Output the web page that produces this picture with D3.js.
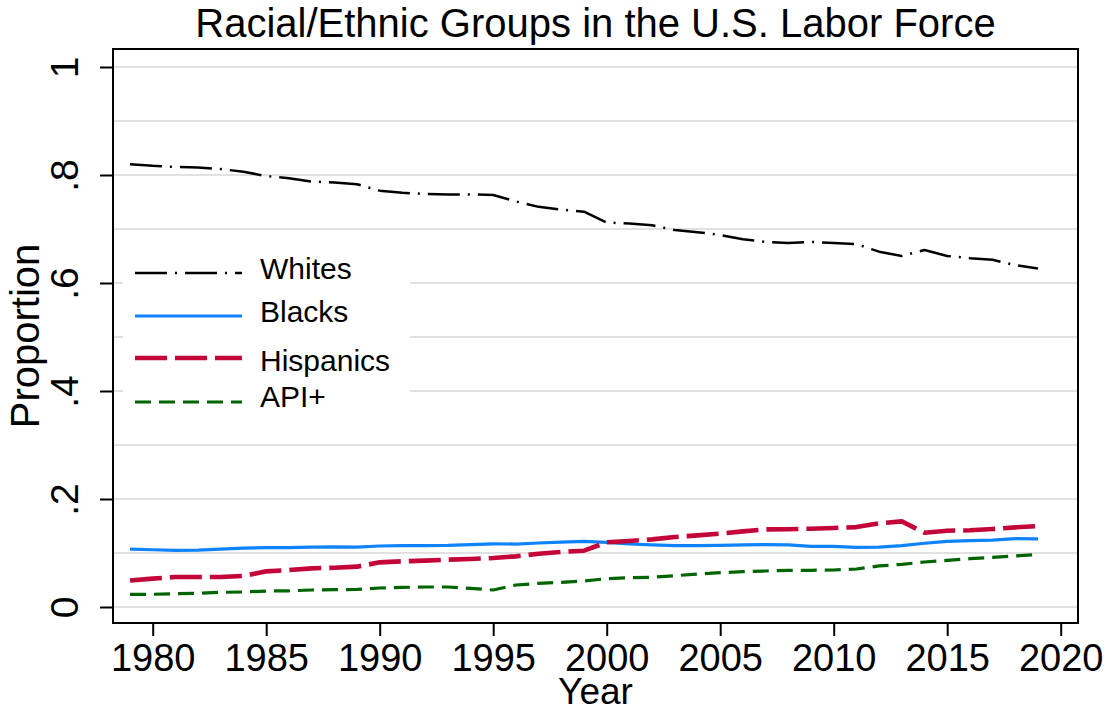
<!DOCTYPE html>
<html>
<head>
<meta charset="utf-8">
<script src="https://cdn.jsdelivr.net/npm/d3@7"></script>
<style>
  body { margin: 0; background: #fff; }
  svg text { font-family: "Liberation Sans", Arial, sans-serif; fill: #000; }
</style>
</head>
<body>
<div id="chart"></div>
<script>
// data
var years = d3.range(1979, 2020);
var whites = [.820, .817, .815, .814, .811, .806, .798, .794, .788, .786, .783, .771, .767, .765, .764, .764, .763, .751, .741, .736, .732,
              .712, .710, .707, .698, .694, .689, .681, .676, .674, .676, .674, .672, .658, .650, .661, .650, .646, .643, .633, .627];
var blacks = [.107, .106, .105, .1055, .107, .109, .110, .110, .111, .1115, .111, .113, .1136, .1136, .114, .1154, .117, .1166, .1185, .120, .1216,
              .1198, .1167, .115, .1136, .1136, .114, .115, .1154, .115, .1123, .1123, .1105, .111, .1136, .118, .1216, .123, .124, .1265, .126];
var hispanics = [.049, .0525, .0556, .0556, .0556, .0574, .066, .0685, .0716, .0728, .0747, .0827, .0846, .0858, .0877, .0889, .0907, .0938, .0987, .1019, .1043,
                 .1198, .1222, .1253, .1296, .1327, .1358, .140, .1438, .144, .145, .1463, .148, .155, .1586, .1376, .1413, .142, .1444, .1475, .150];
var api = [.0235, .0235, .0247, .0253, .0272, .0278, .0296, .030, .0315, .032, .0327, .0352, .0364, .037, .037, .0346, .0315, .0407, .0438, .0457, .048,
           .0525, .0543, .055, .058, .0611, .0636, .0654, .0667, .068, .068, .0685, .0704, .076, .079, .0833, .0864, .0895, .092, .0944, .0975];
var seriesNames = ["Whites", "Blacks", "Hispanics", "API+"];
var xTicks = d3.range(1980, 2021, 5);
var yTicks = [0, .2, .4, .6, .8, 1];
var yGrid = d3.range(0, 11).map(function (i) { return i / 10; });

//Series styles
var styles = {
    "Whites":    {color: "#000000", width: 2.5, dash: "32,8,2,8", values: whites,    ly: 273, ty: 279},
    "Blacks":    {color: "#0f83fa", width: 3.2, dash: null,       values: blacks,    ly: 316, ty: 322},
    "Hispanics": {color: "#c40539", width: 4.6, dash: "32,8",     values: hispanics, ly: 358, ty: 371},
    "API+":      {color: "#006400", width: 3.2, dash: "16,8",     values: api,       ly: 402, ty: 407}
};

var width = 1109, height = 712;
var plot = {left: 113, top: 49, right: 1078, bottom: 623};

var svg = d3.select("#chart").append("svg")
    .attr("width", width)
    .attr("height", height);

var x = d3.scaleLinear().domain([1980, 2020]).range([152.7, 1060.7]);
var y = d3.scaleLinear().domain([0, 1]).range([607, 67]);

//Gridlines
svg.append("g").selectAll("line")
    .data(yGrid)
    .enter().append("line")
    .attr("x1", plot.left).attr("x2", plot.right)
    .attr("y1", function (d) { return y(d); })
    .attr("y2", function (d) { return y(d); })
    .attr("stroke", "#e1e1e1")
    .attr("stroke-width", 2);

//Lines
var line = d3.line()
    .x(function (d, i) { return x(years[i]); })
    .y(function (d) { return y(d); });

seriesNames.forEach(function (name) {
    var s = styles[name];
    svg.append("path")
        .datum(s.values)
        .attr("d", line)
        .attr("fill", "none")
        .attr("stroke", s.color)
        .attr("stroke-width", s.width)
        .attr("stroke-dasharray", s.dash)
        .attr("stroke-linejoin", "round");
});

//Legend (white box covering the grid)
var legend = svg.append("g");
legend.append("rect")
    .attr("x", 123).attr("y", 247)
    .attr("width", 287).attr("height", 176)
    .attr("fill", "#fff");
seriesNames.forEach(function (name) {
    var s = styles[name];
    legend.append("line")
        .attr("x1", 135).attr("x2", 242)
        .attr("y1", s.ly).attr("y2", s.ly)
        .attr("stroke", s.color)
        .attr("stroke-width", s.width)
        .attr("stroke-dasharray", s.dash);
    legend.append("text")
        .attr("x", 260).attr("y", s.ty)
        .style("font-size", "30px")
        .text(name);
});

//Frame
svg.append("rect")
    .attr("x", plot.left).attr("y", plot.top)
    .attr("width", plot.right - plot.left)
    .attr("height", plot.bottom - plot.top)
    .attr("fill", "none")
    .attr("stroke", "#000")
    .attr("stroke-width", 2);

//Axes
var fmt = function (d) {
    return (d === 0 || d === 1) ? String(d) : d3.format(".1f")(d).replace(/^0/, "");
};

var yAxis = svg.append("g")
    .attr("transform", "translate(" + plot.left + ",0)")
    .call(d3.axisLeft(y).tickValues(yTicks).tickFormat(fmt).tickSize(13));
yAxis.select(".domain").remove();
yAxis.selectAll(".tick line").attr("stroke-width", 2);
yAxis.selectAll(".tick text")
    .attr("x", null).attr("dy", null)
    .attr("transform", "translate(-35,0) rotate(-90)")
    .attr("text-anchor", "middle")
    .style("font-size", "39px")
    .style("font-family", "Liberation Sans, Arial, sans-serif");

var xAxis = svg.append("g")
    .attr("transform", "translate(0," + plot.bottom + ")")
    .call(d3.axisBottom(x).tickValues(xTicks).tickFormat(d3.format("d")).tickSize(13));
xAxis.select(".domain").remove();
xAxis.selectAll(".tick line").attr("stroke-width", 2);
xAxis.selectAll(".tick text")
    .attr("y", 48).attr("dy", null)
    .style("font-size", "38px")
    .style("font-family", "Liberation Sans, Arial, sans-serif");

//Titles
svg.append("text")
    .attr("x", (plot.left + plot.right) / 2).attr("y", 37)
    .attr("text-anchor", "middle")
    .style("font-size", "40px")
    .text("Racial/Ethnic Groups in the U.S. Labor Force");

svg.append("text")
    .attr("x", (plot.left + plot.right) / 2).attr("y", 704)
    .attr("text-anchor", "middle")
    .style("font-size", "37px")
    .text("Year");

svg.append("text")
    .attr("transform", "translate(39," + (plot.top + plot.bottom) / 2 + ") rotate(-90)")
    .attr("text-anchor", "middle")
    .style("font-size", "40px")
    .text("Proportion");
</script>
</body>
</html>
